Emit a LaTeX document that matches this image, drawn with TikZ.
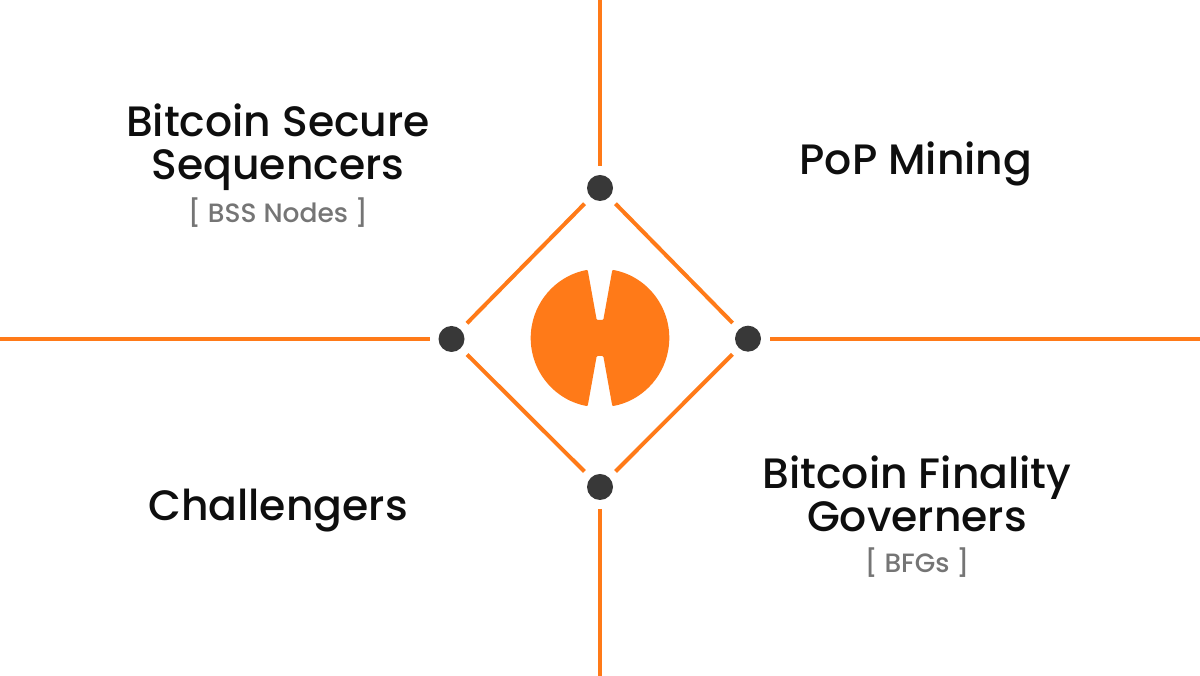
\documentclass[tikz,border=0pt]{standalone}
\usepackage{fontspec}
\setmainfont{Poppins}
\newfontfamily\headfont{Poppins Medium}
\definecolor{hemiorange}{HTML}{FF7A18}
\definecolor{dotgrey}{HTML}{383838}
\definecolor{subgrey}{HTML}{757575}
\definecolor{inkblack}{HTML}{0E0E0E}
\tikzset{
  x=1pt,y=1pt,
  rule/.style={draw=hemiorange,line width=4pt,line cap=butt},
  hub/.style={circle,fill=dotgrey,minimum size=26pt,inner sep=0pt,outer sep=9pt},
  headline/.style={align=center,anchor=base,text=inkblack,font=\headfont\fontsize{42.5}{43}\selectfont},
  subline/.style={anchor=base,text=subgrey,font=\headfont\fontsize{26.5}{28}\selectfont},
}
\begin{document}
\begin{tikzpicture}
\useasboundingbox (0,0) rectangle (1200,676);
% hubs
\node[hub] (top) at (600,488) {};
\node[hub] (bottom) at (600,189) {};
\node[hub] (left) at (451.5,337) {};
\node[hub] (right) at (748,337.3) {};
% free ends
\coordinate (topend) at (600,676);
\coordinate (bottomend) at (600,0);
\coordinate (leftend) at (0,337);
\coordinate (rightend) at (1200,337.3);
% connectors
\draw[rule] (top) -- (topend);
\draw[rule] (bottom) -- (bottomend);
\draw[rule] (left) -- (leftend);
\draw[rule] (right) -- (rightend);
\draw[rule] (top) -- (left);
\draw[rule] (top) -- (right);
\draw[rule] (bottom) -- (left);
\draw[rule] (bottom) -- (right);
% logo
\fill[hemiorange,rounded corners=1pt,shift={(600,338)}]
  (79.75:69.3) arc (79.75:-79.75:69.3) -- (3.3,-18) -- (-3.3,-18)
  -- (-100.25:69.3) arc (-100.25:-259.75:69.3) -- (-3.3,18) -- (3.3,18) -- cycle;
% labels
\node[headline] (bss) at (278,496.5) {Bitcoin Secure\\Sequencers};
\node[subline] (bsssub) at (278,453) {[ BSS Nodes ]};
\node[headline] (pop) at (916,501) {PoP Mining};
\node[headline] (chal) at (278,155) {Challengers};
\node[headline] (bfg) at (917,144.5) {Bitcoin Finality\\Governers};
\node[subline] (bfgsub) at (917,103) {[ BFGs ]};
\end{tikzpicture}
\end{document}
